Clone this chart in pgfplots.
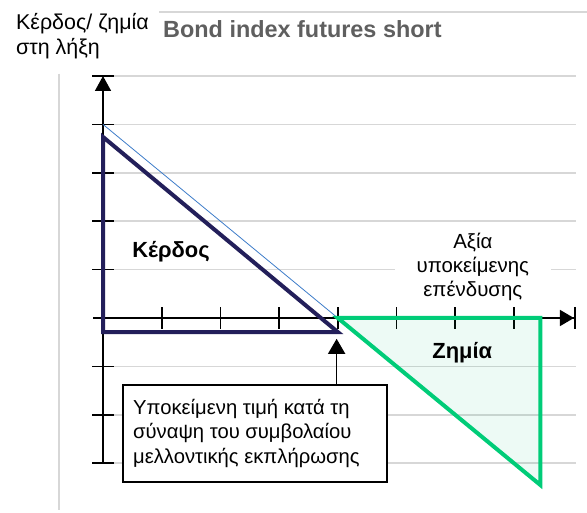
\documentclass[border=0pt]{standalone}
\usepackage{fontspec}
\setmainfont{Liberation Sans}
\usepackage{pgfplots}
\pgfplotsset{compat=1.18}
\usetikzlibrary{arrows.meta}
\definecolor{navy}{RGB}{35,31,90}
\definecolor{zgreen}{RGB}{0,204,120}
\definecolor{zfill}{RGB}{0,180,110}
\definecolor{thinblue}{RGB}{61,124,201}
\definecolor{gridgray}{RGB}{215,215,215}
\definecolor{titlegray}{RGB}{95,95,95}
\begin{document}
\begin{tikzpicture}
\useasboundingbox (0,0) rectangle (587bp,513bp);
\begin{axis}[
  anchor=origin, at={(103bp,195bp)},
  x=58.7bp, y=48.4bp,
  xmin=-0.17, xmax=8.05, ymin=-3, ymax=5,
  axis lines=middle,
  clip=false,
  xtick={1,...,7}, ytick={-3,...,5},
  xticklabels={}, yticklabels={},
  tick align=center, major tick length=22bp,
  tick style={black, line width=1.6bp},
  ymajorgrids, grid style={gridgray, line width=1.6bp},
  x axis line style={black, line width=1.6bp, -{Triangle[length=14bp,width=16bp]Bar[width=22bp,sep=0pt]}},
  y axis line style={black, line width=1.6bp, -{Triangle[length=15bp,width=16bp]}},
]
\draw[gridgray, line width=1.6bp] (axis cs:-0.75,5.05) -- (axis cs:-0.75,-3.97);
\draw[gridgray, line width=1.6bp] (axis cs:0.954,6.32) -- (axis cs:8.25,6.32);
\addplot[thinblue, line width=0.8bp] coordinates {(0,4) (4,0)};
\addplot[navy, line width=4bp, line join=miter] coordinates {(0,3.74) (4,-0.29) (0,-0.29)} -- cycle;
\addplot[zgreen, line width=4bp, fill=zfill, fill opacity=0.07, line join=miter] coordinates {(4,0) (7.45,0) (7.45,-3.45)} -- cycle;
\draw[black, line width=1.6bp, -{Triangle[length=15bp,width=17bp]}] (axis cs:3.98,-1.38) -- (axis cs:3.98,-0.43);
\node[font=\bfseries\fontsize{22}{25}\selectfont] at (axis cs:1.16,1.38) {Κέρδος};
\node[font=\bfseries\fontsize{22}{25}\selectfont] at (axis cs:6.12,-0.72) {Ζημία};
\node[fill=white, align=center, inner xsep=22bp, inner ysep=2bp, font=\fontsize{20.5}{24}\selectfont] at (axis cs:6.3,1.05) {Αξία\\υποκείμενης\\επένδυσης};
\end{axis}
\node[anchor=base west, font=\bfseries\fontsize{23.5}{27}\selectfont, text=titlegray, inner sep=0] at (163bp,475bp) {Bond index futures short};
\node[anchor=base west, font=\fontsize{21.5}{25}\selectfont, inner sep=0] at (16bp,483bp) {Κέρδος/ ζημία};
\node[anchor=base west, font=\fontsize{21.5}{25}\selectfont, inner sep=0] at (16bp,458bp) {στη λήξη};
\draw[black, line width=1.6bp, fill=white] (123bp,31bp) rectangle (387bp,128bp);
\node[anchor=base west, font=\fontsize{20.3}{24}\selectfont, inner sep=0] at (133bp,98bp) {Υποκείμενη τιμή κατά τη};
\node[anchor=base west, font=\fontsize{20.3}{24}\selectfont, inner sep=0] at (133bp,74bp) {σύναψη του συμβολαίου};
\node[anchor=base west, font=\fontsize{20.3}{24}\selectfont, inner sep=0] at (133bp,49bp) {μελλοντικής εκπλήρωσης};
\end{tikzpicture}
\end{document}
